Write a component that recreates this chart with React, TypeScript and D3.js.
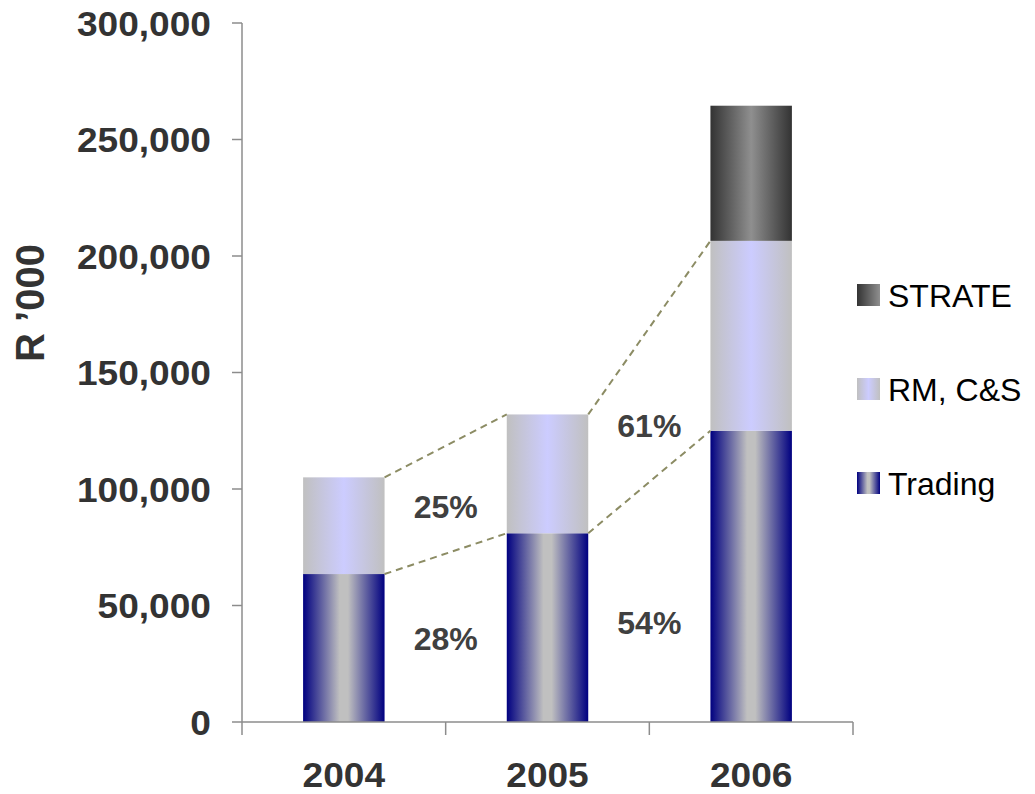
import React from 'react';
import * as d3 from 'd3';

const years = ['2004', '2005', '2006'];
const trading = [63500, 81000, 125000];
const rmcs = [41500, 51000, 81500];
const strate = [0, 0, 58000];
const yTicks = [0, 50000, 100000, 150000, 200000, 250000, 300000];
const upperPct = ['25%', '61%'];
const lowerPct = ['28%', '54%'];

const seriesNames = ['Trading', 'RM, C&S', 'STRATE'];
const gradIds = ['gTrading', 'gRm', 'gStrate'];

const W = 1035;
const H = 794;
const left = 242;
const right = 853;
const top = 23;
const bottom = 722;

const font = 'Arial, "Liberation Sans", sans-serif';

// bold axis text, a bit wider than plain Arial like the original export
const WideText = ({ x, y, anchor, children }: { x: number; y: number; anchor: string; children: React.ReactNode }) => (
  <g transform={`translate(${x},${y}) scale(1.06,1)`}>
    <text
      dy="0.36em"
      textAnchor={anchor}
      fontFamily={font}
      fontWeight="bold"
      fontSize={35}
      fill="#333333"
    >
      {children}
    </text>
  </g>
);

export default function App() {
  const x = d3
    .scaleBand<string>()
    .domain(years)
    .range([left, right])
    .paddingInner(0.6)
    .paddingOuter(0.3);
  const step = x.step();
  const y = d3.scaleLinear().domain([0, 300000]).range([bottom, top]);

  const rows = years.map((yr, i) => ({ yr, Trading: trading[i], 'RM, C&S': rmcs[i], STRATE: strate[i] }));
  const stacked = d3.stack<any>().keys(seriesNames)(rows);

  const fmt = d3.format(',');

  // series connector lines between bar tops
  const connectors: { x1: number; y1: number; x2: number; y2: number }[] = [];
  [0, 1].forEach((s) => {
    for (let i = 0; i < years.length - 1; i++) {
      connectors.push({
        x1: (x(years[i]) as number) + x.bandwidth(),
        y1: y(stacked[s][i][1]),
        x2: x(years[i + 1]) as number,
        y2: y(stacked[s][i + 1][1]),
      });
    }
  });

  const pctX = (i: number) => ((x(years[i]) as number) + x.bandwidth() + (x(years[i + 1]) as number)) / 2;

  return (
    <svg width={W} height={H} style={{ position: 'absolute', left: 0, top: 0 }}>
      <defs>
        <linearGradient id="gTrading" x1="0" x2="1" y1="0" y2="0">
          <stop offset="0" stopColor="#000080" />
          <stop offset="0.45" stopColor="#c0c0c0" />
          <stop offset="0.55" stopColor="#c0c0c0" />
          <stop offset="1" stopColor="#000080" />
        </linearGradient>
        <linearGradient id="gRm" x1="0" x2="1" y1="0" y2="0">
          <stop offset="0" stopColor="#c0c0c0" />
          <stop offset="0.5" stopColor="#ccccff" />
          <stop offset="1" stopColor="#c0c0c0" />
        </linearGradient>
        <linearGradient id="gStrate" x1="0" x2="1" y1="0" y2="0">
          <stop offset="0" stopColor="#333333" />
          <stop offset="0.5" stopColor="#8f8f8f" />
          <stop offset="1" stopColor="#333333" />
        </linearGradient>
        <linearGradient id="gStrateKey" x1="0" x2="1" y1="0" y2="0">
          <stop offset="0" stopColor="#333333" />
          <stop offset="1" stopColor="#8f8f8f" />
        </linearGradient>
      </defs>

      {/* bars */}
      {stacked.map((layer, s) =>
        layer.map((d, i) =>
          d[1] - d[0] > 0 ? (
            <rect
              key={`${s}-${i}`}
              x={x(years[i])}
              y={y(d[1])}
              width={x.bandwidth()}
              height={y(d[0]) - y(d[1])}
              fill={`url(#${gradIds[s]})`}
            />
          ) : null,
        ),
      )}

      {connectors.map((c, i) => (
        <line key={i} x1={c.x1} y1={c.y1} x2={c.x2} y2={c.y2} stroke="#8c8c64" strokeWidth={2} strokeDasharray="7,5" />
      ))}

      {/* axes */}
      <line x1={left} x2={left} y1={top} y2={bottom} stroke="#8c8c8c" strokeWidth={1.5} />
      <line x1={left} x2={right} y1={bottom} y2={bottom} stroke="#8c8c8c" strokeWidth={1.5} />
      {yTicks.map((t) => (
        <g key={t}>
          <line x1={left - 10} x2={left} y1={y(t)} y2={y(t)} stroke="#8c8c8c" strokeWidth={1.5} />
          <WideText x={211} y={y(t)} anchor="end">
            {fmt(t)}
          </WideText>
        </g>
      ))}
      {d3.range(years.length + 1).map((k) => (
        <line
          key={k}
          x1={left + k * step}
          x2={left + k * step}
          y1={bottom}
          y2={bottom + 13}
          stroke="#8c8c8c"
          strokeWidth={1.5}
        />
      ))}
      {years.map((yr) => (
        <WideText key={yr} x={(x(yr) as number) + x.bandwidth() / 2} y={774} anchor="middle">
          {yr}
        </WideText>
      ))}
      <text
        transform="translate(30,303) rotate(-90)"
        textAnchor="middle"
        dy="0.36em"
        fontFamily={font}
        fontWeight="bold"
        fontSize={40}
        fill="#333333"
      >
        R ’000
      </text>

      {/* percentage labels */}
      {upperPct.map((p, i) => (
        <text
          key={p}
          x={pctX(i)}
          y={i === 0 ? 506 : 425}
          dy="0.36em"
          textAnchor="middle"
          fontFamily={font}
          fontWeight="bold"
          fontSize={32}
          fill="#404040"
        >
          {p}
        </text>
      ))}
      {lowerPct.map((p, i) => (
        <text
          key={p}
          x={pctX(i)}
          y={i === 0 ? 638 : 622}
          dy="0.36em"
          textAnchor="middle"
          fontFamily={font}
          fontWeight="bold"
          fontSize={32}
          fill="#404040"
        >
          {p}
        </text>
      ))}

      {/* legend */}
      {[2, 1, 0].map((s, k) => (
        <g key={s} transform={`translate(857,${295 + k * 94})`}>
          <rect
            x={0}
            y={-11}
            width={23}
            height={22}
            fill={`url(#${s === 2 ? 'gStrateKey' : gradIds[s]})`}
          />
          <text x={31} y={0} dy="0.36em" fontFamily={font} fontSize={32} fill="#000">
            {seriesNames[s]}
          </text>
        </g>
      ))}
    </svg>
  );
}
